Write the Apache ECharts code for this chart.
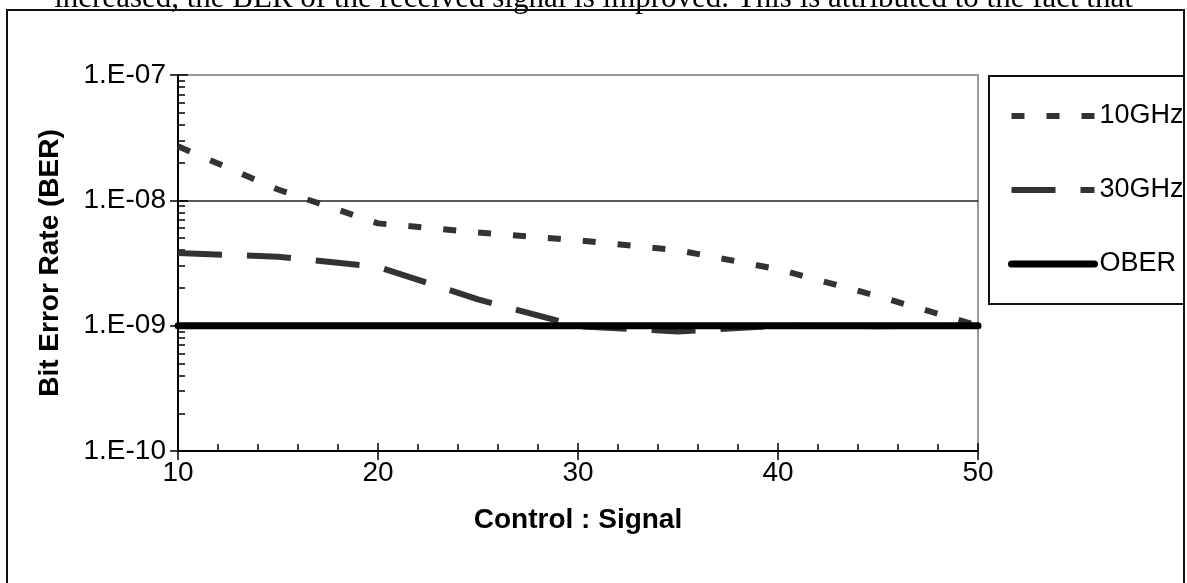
<!DOCTYPE html>
<html>
<head>
<meta charset="utf-8">
<title>BER vs Control : Signal</title>
<script src="https://cdn.jsdelivr.net/npm/echarts@6/dist/echarts.min.js"></script>
<style>
html, body { margin: 0; padding: 0; background: #fff; }
#chart { width: 1187px; height: 583px; }
</style>
</head>
<body>
<div id="chart"></div>
<script>
// values
var ratio = [10, 15, 20, 25, 30, 35, 40, 45, 50];
var ber10GHz = [2.7e-8, 1.22e-8, 6.55e-9, 5.55e-9, 4.8e-9, 4.0e-9, 2.82e-9, 1.72e-9, 1.0e-9];
var ber30GHz = [3.8e-9, 3.55e-9, 2.95e-9, 1.62e-9, 0.99e-9, 0.9e-9, 1.0e-9, 0.99e-9, 1.0e-9];
var berOBER = [1e-9, 1e-9, 1e-9, 1e-9, 1e-9, 1e-9, 1e-9, 1e-9, 1e-9];
var seriesNames = ['10GHz', '30GHz', 'OBER'];
var xTicks = [10, 20, 30, 40, 50];
var yTickValues = [1e-10, 1e-9, 1e-8, 1e-7];
var yTickLabels = ['1.E-10', '1.E-09', '1.E-08', '1.E-07'];
var topLine = 'increased, the BER of the received signal is improved. This is attributed to the fact that';

var chart = echarts.init(document.getElementById('chart'));
var font = 'Liberation Sans';

// line looks per series
var styles = [
  { color: '#333', width: 6, type: [13, 22] },
  { color: '#333', width: 6, type: [44, 25] },
  { color: '#000', width: 7, type: 'solid', cap: 'round' }
];

function pairs(ys) {
  return ratio.map(function (x, i) { return [x, ys[i]]; });
}

// log minor ticks 2..9 inside each decade
var minorY = [];
for (var d = 0; d < yTickValues.length - 1; d++) {
  for (var k = 2; k <= 9; k++) minorY.push(k * yTickValues[d]);
}

function yLabel(v) {
  for (var i = 0; i < yTickValues.length; i++) {
    if (Math.abs(Math.log10(v) - Math.log10(yTickValues[i])) < 0.01) return yTickLabels[i];
  }
  return '';
}

var option = {
  animation: false,
  backgroundColor: '#fff',
  graphic: [
    { type: 'text', left: 'center', top: -17,
      style: { text: topLine, font: '31px "Liberation Serif"', fill: '#000' } },
    { type: 'rect', shape: { x: 7, y: 10, width: 1177, height: 600 },
      style: { fill: 'none', stroke: '#111', lineWidth: 2 } },
    { type: 'rect', shape: { x: 989, y: 76, width: 195, height: 228 },
      style: { fill: 'none', stroke: '#111', lineWidth: 2 } }
  ],
  legend: {
    orient: 'vertical',
    left: 1003,
    top: 97,
    itemWidth: 83,
    itemHeight: 28,
    itemGap: 46,
    selectedMode: false,
    itemStyle: { opacity: 0 },
    data: seriesNames.map(function (n, i) {
      return { name: n, lineStyle: { width: styles[i].width, type: styles[i].type, color: styles[i].color } };
    }),
    textStyle: { fontFamily: font, fontSize: 27, color: '#000', lineHeight: 28 }
  },
  grid: {
    left: 178, right: 209, top: 75, bottom: 132,
    show: true, borderColor: '#999', borderWidth: 2
  },
  xAxis: [
    {
      type: 'value', min: 10, max: 50, interval: 10,
      name: 'Control : Signal', nameLocation: 'middle', nameGap: 55,
      nameTextStyle: { fontFamily: font, fontSize: 28, fontWeight: 'bold', color: '#000' },
      axisLine: { lineStyle: { color: '#000', width: 2 } },
      axisTick: { length: 9, lineStyle: { color: '#000', width: 1.5 } },
      axisLabel: { margin: 8, fontFamily: font, fontSize: 28, color: '#000',
        formatter: function (v) { return xTicks.indexOf(v) >= 0 ? String(v) : ''; } },
      splitLine: { show: false }
    },
    {
      type: 'value', min: 10, max: 50, interval: 10, position: 'bottom',
      axisLine: { show: false },
      axisTick: { inside: true, length: 8, lineStyle: { color: '#000', width: 1.5 } },
      minorTick: { show: true, splitNumber: 5, length: 7, lineStyle: { color: '#000', width: 1.5 } },
      axisLabel: { show: false },
      splitLine: { show: false }
    }
  ],
  yAxis: [
    {
      type: 'log', logBase: 10, min: 1e-10, max: 1e-7,
      name: 'Bit Error Rate (BER)', nameLocation: 'middle', nameGap: 114,
      nameTextStyle: { fontFamily: font, fontSize: 28, fontWeight: 'bold', color: '#000' },
      axisLine: { show: true, lineStyle: { color: '#000', width: 2 } },
      axisTick: { show: true, length: 8, lineStyle: { color: '#000', width: 1.5 } },
      axisLabel: { margin: 12, fontFamily: font, fontSize: 28, color: '#000', formatter: yLabel },
      splitLine: { show: true, lineStyle: { color: ['#000', '#222', '#222', '#999'], width: 1.5 } }
    },
    {
      type: 'log', logBase: 10, min: 1e-10, max: 1e-7, position: 'left',
      axisLine: { show: false },
      axisTick: { show: true, inside: true, length: 10, lineStyle: { color: '#000', width: 1.5 } },
      axisLabel: { show: false },
      splitLine: { show: false }
    },
    {
      type: 'log', logBase: 10, min: 1e-10, max: 1e-7, position: 'left',
      axisLine: { show: false },
      axisTick: { show: true, inside: true, length: 7, customValues: minorY,
        lineStyle: { color: '#000', width: 1.5 } },
      axisLabel: { show: false },
      splitLine: { show: false }
    }
  ],
  series: [
    {
      name: seriesNames[0], type: 'line', symbol: 'none', data: pairs(ber10GHz),
      lineStyle: styles[0], itemStyle: { color: styles[0].color }
    },
    {
      name: seriesNames[1], type: 'line', symbol: 'none', data: pairs(ber30GHz),
      lineStyle: styles[1], itemStyle: { color: styles[1].color }
    },
    {
      name: seriesNames[2], type: 'line', symbol: 'none', data: pairs(berOBER),
      lineStyle: styles[2], itemStyle: { color: styles[2].color }
    }
  ]
};

chart.setOption(option);
</script>
</body>
</html>
